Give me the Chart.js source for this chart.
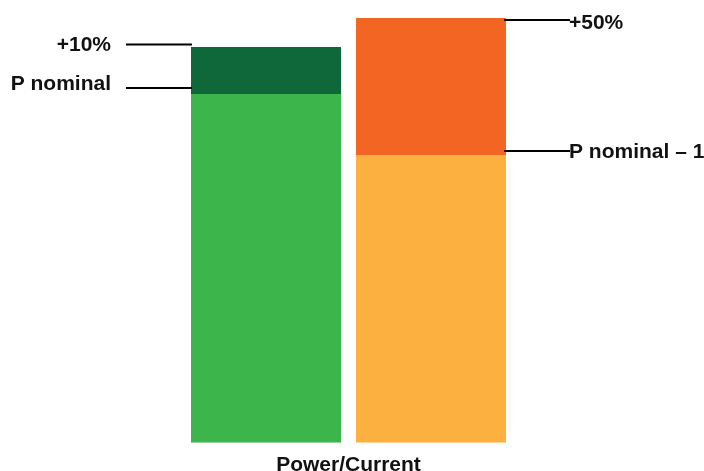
<!DOCTYPE html>
<html>
<head>
<meta charset="utf-8">
<script src="https://cdn.jsdelivr.net/npm/chart.js@4.4.1/dist/chart.umd.min.js"></script>
<style>
  html, body { margin: 0; padding: 0; background: #fff; }
  #wrap { width: 704px; height: 471px; position: relative; }
</style>
</head>
<body>
<div id="wrap"><canvas id="chart"></canvas></div>
<script>
// Barras empilhadas: valor nominal + sobrecarga
const categories = ["Power", "Current"];
const nominalValues = [349, 288];
const overloadValues = [47, 137];
const nominalColors = ["#3cb64b", "#fbb040"];
const overloadColors = ["#0f6839", "#f26522"];
const axisMax = 433;

// Rótulos com linha guia: barra, lado, nível da pilha, texto
const callouts = [
  { bar: 0, side: "left", level: "top", text: "+10%", dy: -2.5, tdy: 1 },
  { bar: 0, side: "left", level: "base", text: "P nominal", dy: -6, tdy: -3.5 },
  { bar: 1, side: "right", level: "top", text: "+50%", dy: 2, tdy: 3 },
  { bar: 1, side: "right", level: "base", text: "P nominal \u2013 1", dy: -4, tdy: 1 }
];

const FONT_FAMILY = "'Liberation Sans', Arial, sans-serif";
const FONT = "bold 21px " + FONT_FAMILY;

const calloutPlugin = {
  id: "callouts",
  afterDatasetsDraw(chart) {
    const ctx = chart.ctx;
    const y = chart.scales.y;
    const meta = chart.getDatasetMeta(0);
    ctx.save();
    ctx.font = FONT;
    ctx.fillStyle = "#111";
    ctx.strokeStyle = "#000";
    ctx.lineWidth = 2;
    ctx.textBaseline = "middle";
    callouts.forEach((c) => {
      const bar = meta.data[c.bar];
      const value = c.level === "top"
        ? nominalValues[c.bar] + overloadValues[c.bar]
        : nominalValues[c.bar];
      const py = y.getPixelForValue(value) + c.dy;
      const half = bar.width / 2;
      let x1, x2, tx;
      if (c.side === "left") {
        x2 = bar.x - half + 1;
        x1 = x2 - 66;
        tx = x1 - 15;
        ctx.textAlign = "right";
      } else {
        x1 = bar.x + half - 2;
        x2 = x1 + 66;
        tx = x2 - 1;
        ctx.textAlign = "left";
      }
      ctx.beginPath();
      ctx.moveTo(x1, py);
      ctx.lineTo(x2, py);
      ctx.stroke();
      ctx.fillText(c.text, tx, py + c.tdy);
    });
    ctx.restore();
  }
};

new Chart(document.getElementById("chart"), {
  type: "bar",
  data: {
    labels: categories,
    datasets: [
      {
        label: "Nominal",
        data: nominalValues,
        backgroundColor: nominalColors,
        borderWidth: 0
      },
      {
        label: "Sobrecarga",
        data: overloadValues,
        backgroundColor: overloadColors,
        borderWidth: 0
      }
    ]
  },
  options: {
    responsive: true,
    maintainAspectRatio: false,
    animation: false,
    categoryPercentage: 1,
    barPercentage: 150 / 165,
    layout: { padding: { left: 183.5, right: 190.5, top: 10, bottom: 0 } },
    plugins: {
      legend: { display: false },
      tooltip: { enabled: false }
    },
    scales: {
      x: {
        stacked: true,
        grid: { display: false, drawTicks: false },
        border: { display: false },
        ticks: { display: false },
        title: {
          display: true,
          text: "Power/Current",
          color: "#111",
          font: { family: FONT_FAMILY, weight: "bold", size: 21 },
          padding: { top: 10, bottom: -7 }
        }
      },
      y: {
        stacked: true,
        display: false,
        min: 0,
        max: axisMax
      }
    }
  },
  plugins: [calloutPlugin]
});
</script>
</body>
</html>
